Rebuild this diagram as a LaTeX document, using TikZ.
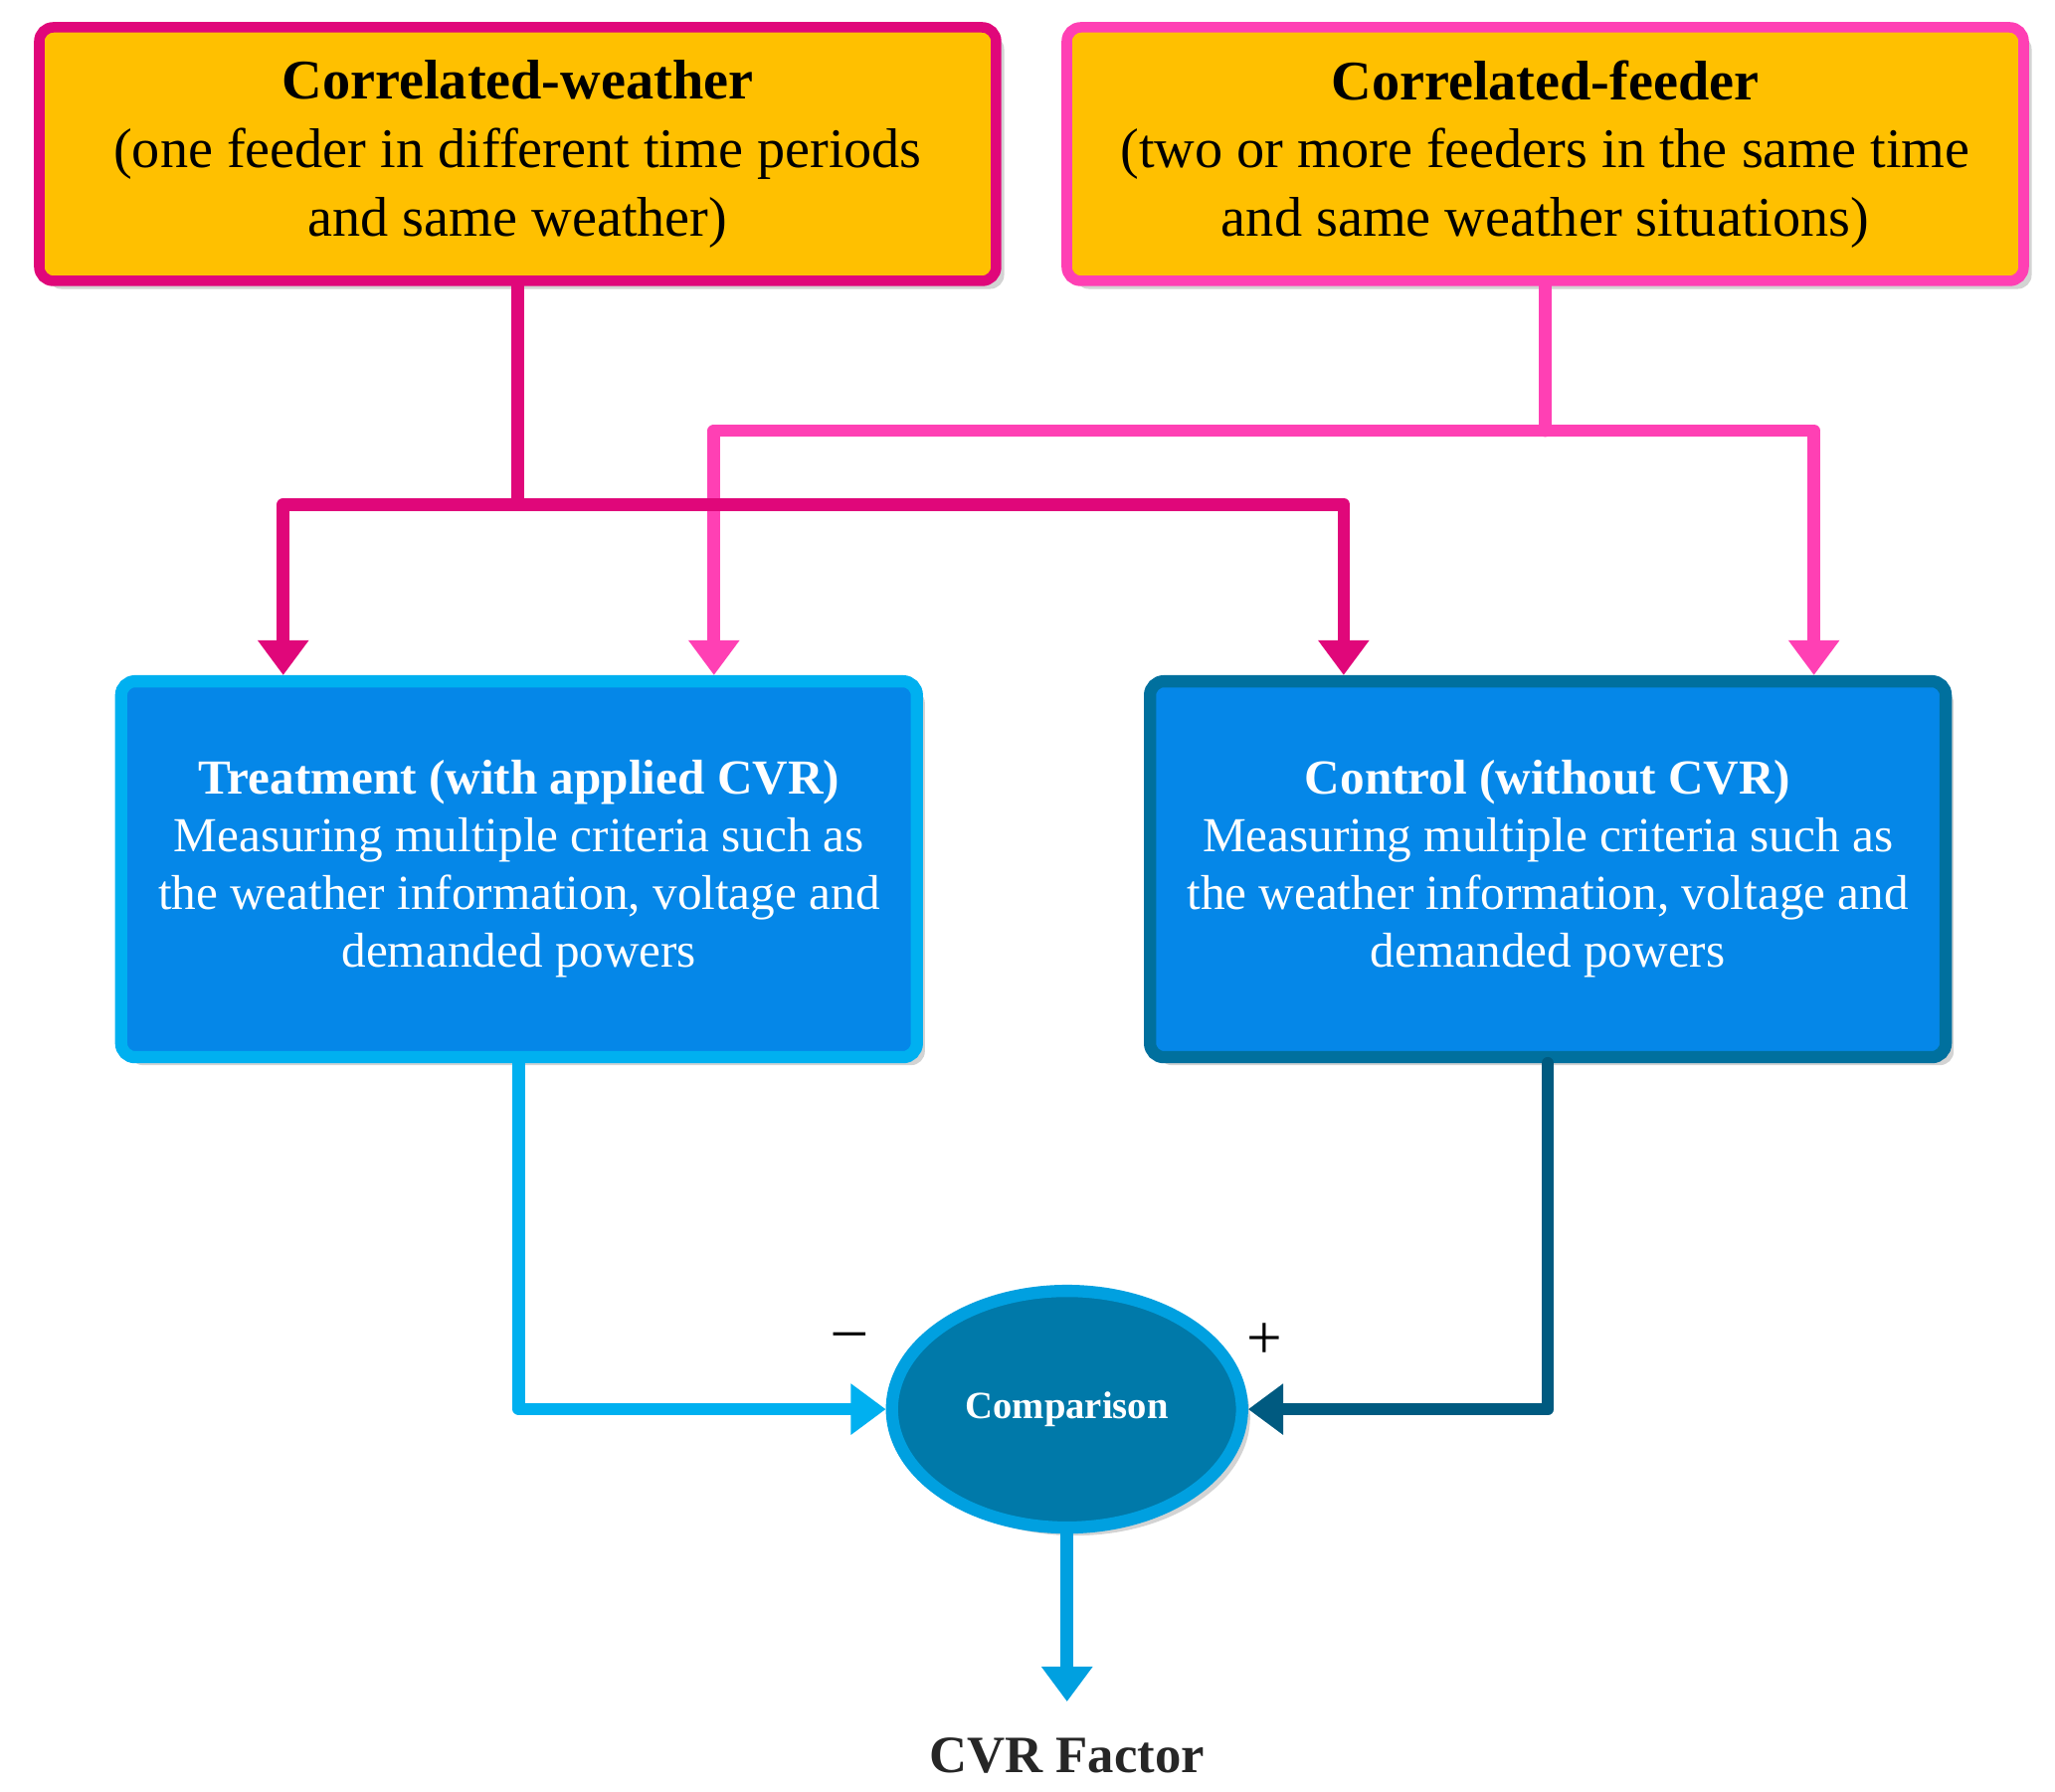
\documentclass[tikz,border=0pt]{standalone}
\usepackage{fontspec}
\setmainfont{Liberation Serif}
\usetikzlibrary{arrows.meta,shapes.geometric,shadows}
\definecolor{orng}{HTML}{FFC000}
\definecolor{deeppink}{HTML}{E0077A}
\definecolor{lightpink}{HTML}{FF40B4}
\definecolor{boxblue}{HTML}{0587E8}
\definecolor{skyline}{HTML}{00B0F0}
\definecolor{darkline}{HTML}{00709E}
\definecolor{navyline}{HTML}{005A80}
\definecolor{ellfill}{HTML}{0079A9}
\definecolor{ellline}{HTML}{00A0E0}
\tikzset{
  topbox/.style={draw, fill=orng, line width=3pt, rounded corners=4pt, minimum width=9.62cm, minimum height=2.55cm, align=center, font=\fontsize{16}{19.5}\selectfont, drop shadow={opacity=0.35}},
  midbox/.style={draw, fill=boxblue, line width=3.5pt, rounded corners=4pt, minimum width=8.0cm, minimum height=3.78cm, align=center, text=white, font=\fontsize{14}{16.5}\selectfont, drop shadow={opacity=0.35}},
  wire/.style={line width=3.6pt, line cap=round, line join=round},
  arr/.style={wire, -{Triangle[length=10pt,width=14pt]}}
}
\begin{document}
\begin{tikzpicture}[x=0.01324cm,y=-0.01324cm]
\useasboundingbox (0,0) rectangle (1560,1360);
\node [topbox, draw=deeppink] (weather) at (393,117) {\textbf{Correlated-weather}\\(one feeder in different time periods\\and same weather)};
\node [topbox, draw=lightpink] (feeder) at (1173,117) {\textbf{Correlated-feeder}\\(two or more feeders in the same time\\and same weather situations)};
\node [midbox, draw=skyline] (treat) at (394,660) {\textbf{Treatment (with applied CVR)}\\Measuring multiple criteria such as\\the weather information, voltage and\\demanded powers};
\node [midbox, draw=darkline] (ctrl) at (1175,660) {\textbf{Control (without CVR)}\\Measuring multiple criteria such as\\the weather information, voltage and\\demanded powers};
\node [ellipse, draw=ellline, fill=ellfill, line width=3.5pt, minimum width=3.52cm, minimum height=2.38cm, text=white, font=\bfseries\fontsize{11}{13}\selectfont, drop shadow={opacity=0.35}] (comp) at (810,1070) {Comparison};
\node [font=\bfseries\fontsize{15}{18}\selectfont, text=black!85] (cvr) at (810,1333) {CVR Factor};
\node [font=\fontsize{18}{20}\selectfont] (minus) at (645,1018) {--};
\node [font=\fontsize{18}{20}\selectfont] (plus) at (960,1018) {+};
\coordinate (wj) at (393,383);
\coordinate (wl) at (215,383);
\coordinate (wr) at (1020,383);
\coordinate (fj) at (1173,327);
\coordinate (fl) at (542,327);
\coordinate (fr) at (1377,327);
\coordinate (cvrtip) at (810,1292);
% feeder lines (drawn first, under weather lines)
\draw [wire, lightpink] (feeder.south) -- (fj);
\draw [arr, lightpink] (fj) -- (fl) -- (fl |- treat.north);
\draw [arr, lightpink] (fj) -- (fr) -- (fr |- ctrl.north);
% weather lines
\draw [wire, deeppink] (weather.south) -- (wj);
\draw [arr, deeppink] (wj) -- (wl) -- (wl |- treat.north);
\draw [arr, deeppink] (wj) -- (wr) -- (wr |- ctrl.north);
% to comparison
\draw [arr, skyline] (treat.south) |- (comp.west);
\draw [arr, navyline] (ctrl.south) |- (comp.east);
\draw [arr, ellline] (comp.south) -- (cvrtip);
\end{tikzpicture}
\end{document}
